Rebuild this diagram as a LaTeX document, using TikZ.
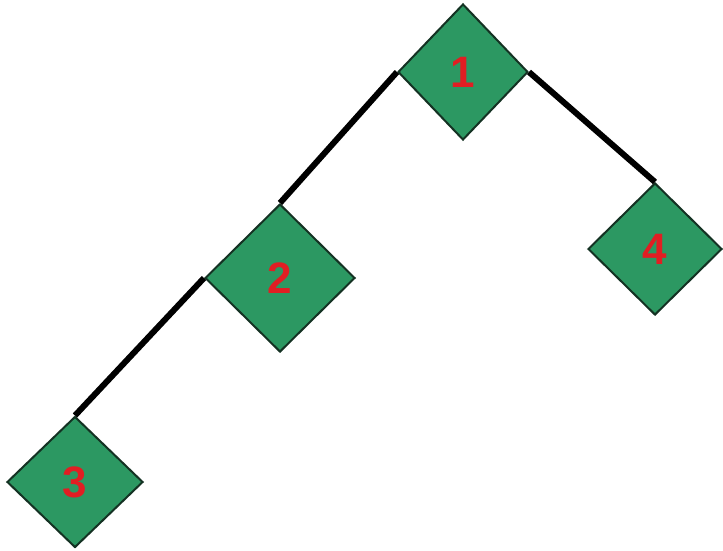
\documentclass[tikz,border=0pt]{standalone}
\usepackage{fontspec}
\setmainfont{Liberation Sans}
\usetikzlibrary{shapes.geometric}
\definecolor{dgreen}{RGB}{44,152,98}
\definecolor{dborder}{RGB}{20,50,35}
\definecolor{numred}{RGB}{225,30,35}
\tikzset{
  dnode/.style={diamond, aspect=1, draw=dborder, line width=2pt, fill=dgreen,
    inner sep=0pt, text=numred, font=\bfseries\fontsize{44}{44}\selectfont},
  link/.style={line width=6pt, black}
}
\begin{document}
\begin{tikzpicture}[x=1pt,y=-1pt]
\useasboundingbox (0,0) rectangle (723,551);
\path[fill=white] (0,0) rectangle (723,551);
\coordinate (p1) at (463,72);
\coordinate (p2) at (280,278);
\coordinate (p3) at (75,482);
\coordinate (p4) at (655,249);
\node[dnode, minimum width=130pt, minimum height=136pt] (n1) at (p1) {1};
\node[dnode, minimum width=150pt, minimum height=148pt] (n2) at (p2) {2};
\node[dnode, minimum width=136pt, minimum height=131pt] (n3) at (p3) {3};
\node[dnode, minimum width=134pt, minimum height=132pt] (n4) at (p4) {4};
\draw[link] (n1.west) -- (n2.north);
\draw[link] (n2.west) -- (n3.north);
\draw[link] (n1.east) -- (n4.north);
\end{tikzpicture}
\end{document}
